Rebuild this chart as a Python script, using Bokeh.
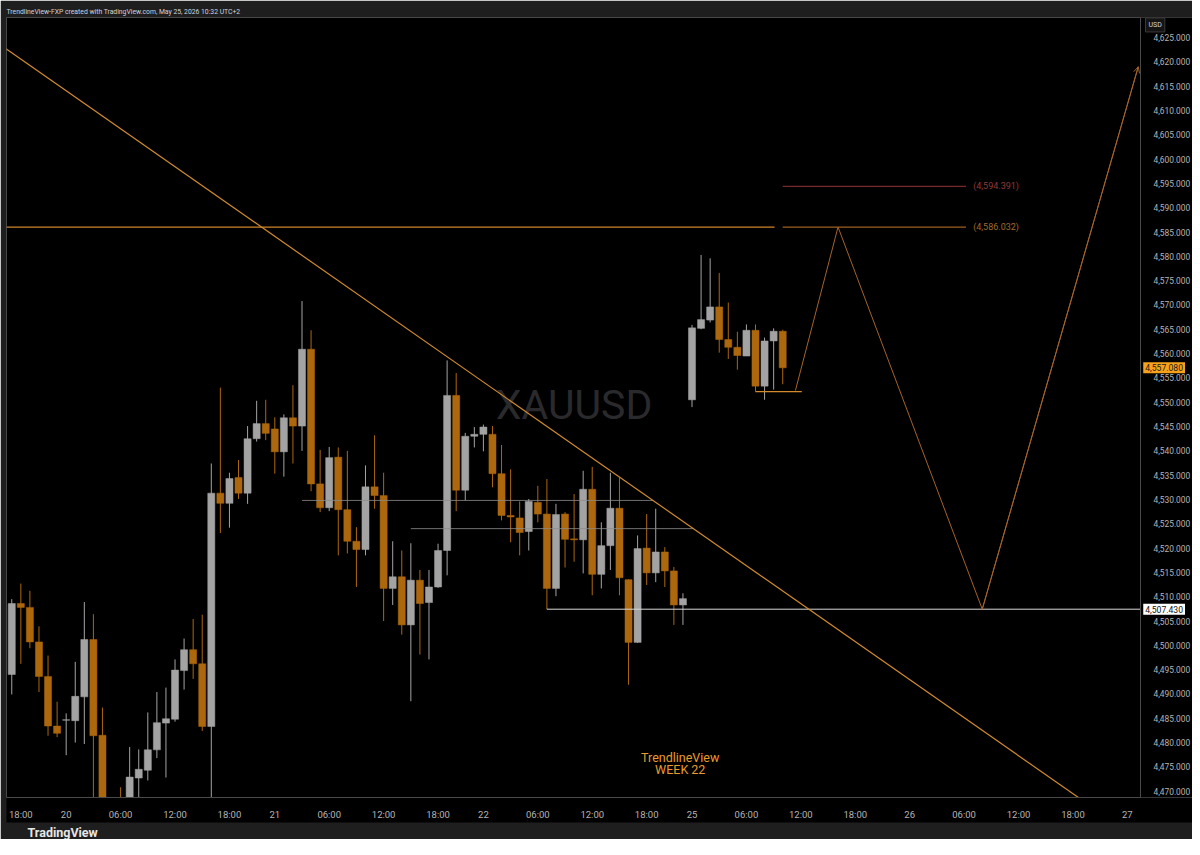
from bokeh.plotting import figure
from bokeh.models import (Range1d, FixedTicker, NumeralTickFormatter, ColumnDataSource,
                          Label, Title, Arrow, OpenHead)
from bokeh.core.properties import value
from bokeh.embed import file_html
from bokeh.resources import INLINE

# ---------------- data (hourly XAUUSD bars) ----------------
opens = [4494.0, 4508.6, 4507.8, 4500.7, 4493.6, 4483.4, 4484.6, 4484.5, 4489.4, 4501.2,
         4481.5, 4465.0, 4464.0, 4462.0, 4472.7, 4474.3, 4478.5, 4484.0, 4484.8, 4494.8,
         4499.1, 4496.2, 4483.3, 4531.3, 4529.2, 4534.5, 4531.3, 4542.5, 4545.6, 4544.5,
         4539.8, 4546.8, 4545.1, 4560.9, 4533.2, 4528.3, 4538.7, 4527.9, 4521.4, 4519.7,
         4532.6, 4530.8, 4511.7, 4514.1, 4504.2, 4513.4, 4508.8, 4512.0, 4519.5, 4551.4,
         4531.9, 4543.0, 4543.4, 4543.4, 4535.3, 4526.7, 4526.2, 4523.4, 4529.4, 4527.0,
         4511.7, 4527.0, 4521.9, 4521.7, 4532.1, 4514.6, 4520.5, 4528.2, 4513.5, 4500.6,
         4520.0, 4514.9, 4519.2, 4515.3, 4508.3, 4550.5, 4565.2, 4566.9, 4569.6, 4562.9,
         4561.3, 4559.5, 4564.8, 4553.3, 4562.6, 4564.6]
highs = [4509.5, 4512.7, 4511.2, 4503.9, 4497.9, 4488.4, 4486.0, 4496.6, 4508.9, 4506.4,
         4487.2, 4468.0, 4470.8, 4479.1, 4478.6, 4486.2, 4490.4, 4491.3, 4497.1, 4501.4,
         4505.4, 4506.3, 4537.4, 4553.0, 4535.5, 4538.1, 4545.1, 4550.3, 4550.5, 4546.9,
         4547.5, 4553.5, 4570.8, 4564.8, 4540.2, 4540.8, 4540.7, 4540.0, 4524.3, 4537.0,
         4543.2, 4535.5, 4521.4, 4519.5, 4521.0, 4515.5, 4515.5, 4520.9, 4558.6, 4556.0,
         4543.7, 4544.9, 4545.4, 4545.1, 4541.2, 4536.2, 4529.6, 4530.1, 4532.8, 4534.2,
         4529.1, 4527.4, 4531.1, 4535.9, 4536.7, 4525.3, 4535.5, 4534.5, 4513.6, 4522.6,
         4527.0, 4528.1, 4520.2, 4516.1, 4510.7, 4565.9, 4580.3, 4579.6, 4576.6, 4570.5,
         4564.5, 4566.0, 4566.0, 4563.3, 4565.2, 4564.9]
lows = [4489.9, 4496.2, 4499.4, 4490.4, 4481.4, 4481.1, 4477.4, 4480.0, 4479.7, 4466.0,
        4460.0, 4455.0, 4456.0, 4458.0, 4467.0, 4472.2, 4476.8, 4472.8, 4484.3, 4490.9,
        4493.1, 4482.4, 4466.0, 4523.1, 4524.2, 4530.1, 4529.1, 4541.9, 4542.2, 4535.3,
        4534.7, 4537.4, 4540.0, 4531.7, 4527.4, 4527.6, 4518.5, 4518.9, 4512.0, 4518.5,
        4528.1, 4505.0, 4508.3, 4502.2, 4488.5, 4498.1, 4497.1, 4511.8, 4514.4, 4527.6,
        4529.8, 4540.7, 4539.9, 4532.5, 4525.7, 4521.2, 4518.5, 4519.5, 4525.3, 4507.4,
        4510.1, 4516.0, 4517.2, 4514.8, 4510.3, 4511.7, 4515.5, 4510.3, 4491.9, 4500.5,
        4512.4, 4513.0, 4512.0, 4504.2, 4504.2, 4549.0, 4565.0, 4566.4, 4560.2, 4558.9,
        4556.7, 4559.5, 4552.2, 4550.5, 4552.6, 4553.7]
closes = [4508.6, 4507.8, 4500.7, 4493.6, 4483.4, 4481.9, 4484.7, 4489.5, 4501.2, 4481.4,
          4465.0, 4461.0, 4462.0, 4472.9, 4474.5, 4478.5, 4484.1, 4484.9, 4494.9, 4499.1,
          4496.2, 4483.3, 4531.3, 4529.2, 4534.3, 4531.3, 4542.5, 4545.6, 4543.6, 4539.8,
          4546.8, 4545.1, 4560.9, 4533.2, 4528.3, 4538.6, 4527.9, 4521.4, 4519.7, 4532.6,
          4530.8, 4511.7, 4514.1, 4504.2, 4513.4, 4508.6, 4512.0, 4519.5, 4551.4, 4531.9,
          4543.0, 4543.4, 4544.9, 4535.3, 4526.7, 4526.4, 4523.2, 4529.6, 4527.0, 4511.7,
          4526.9, 4521.8, 4521.7, 4532.1, 4514.6, 4520.5, 4528.2, 4513.9, 4500.6, 4519.9,
          4514.9, 4519.2, 4515.3, 4508.3, 4509.6, 4565.3, 4567.0, 4569.6, 4562.9, 4561.3,
          4559.6, 4564.8, 4553.3, 4562.6, 4564.6, 4557.08]

# time axis (bar index -> label)
time_tick_pos = [1, 6, 12, 18, 24, 29, 35, 41, 47, 52, 58, 64, 70, 75, 81, 87, 93, 99, 105, 111, 117, 123]
time_tick_labels = ["18:00", "20", "06:00", "12:00", "18:00", "21", "06:00", "12:00", "18:00", "22",
                    "06:00", "12:00", "18:00", "25", "06:00", "12:00", "18:00", "26", "06:00", "12:00",
                    "18:00", "27"]
price_ticks = list(range(4470, 4630, 5))

# drawings
trend_x = [-0.7, 117.6]
trend_y = [4622.8, 4468.7]
level_hi = 4594.391
level_mid = 4586.032
level_low = 4507.43
last_price = 4557.08
box_top_price = 4529.8
box_bot_price = 4524.0
base_price = 4552.2
zig_x = [86.4, 91.1, 107.0, 124.2]
zig_y = [4552.4, 4586.032, 4507.43, 4619.0]

SCALE_X = 124.44          # bar position of the price-scale border
UP = "#a3a3a3"
DOWN = "#ad670c"
FONT = value("Roboto")

p = figure(width=1192, height=839, x_range=Range1d(-0.58, 130.18), y_range=Range1d(4468.7, 4629.13),
           y_axis_location="right", output_backend="svg", toolbar_location=None,
           background_fill_color="black", border_fill_color="#1e1e1e",
           min_border_left=6, min_border_right=0, min_border_top=17, min_border_bottom=37,
           outline_line_color=None)
p.grid.visible = False

# header / footer
p.title.text = "TrendlineView-FXP created with TradingView.com, May 25, 2026 10:32 UTC+2"
p.title.text_font = "Roboto"
p.title.text_font_size = "6.8px"
p.title.text_font_style = "normal"
p.title.text_color = "#d1d4dc"
p.title.align = "left"
p.title.standoff = 3
p.add_layout(Title(text="TradingView", text_font="Roboto", text_font_size="12.5px",
                   text_font_style="bold", text_color="#e6e6e6", align="left", offset=21,
                   standoff=0), "below")

# watermark
p.text(x=[62], y=[4549.5], text=["XAUUSD"], text_font=FONT, text_font_size="41px",
       text_color="#2a2a2d", text_align="center", text_baseline="middle")

# candles
idx = list(range(len(opens)))
colors = [UP if c >= o else DOWN for o, c in zip(opens, closes)]
src = ColumnDataSource(dict(x=idx, o=opens, h=highs, l=lows, c=closes,
                            top=[max(o, c) for o, c in zip(opens, closes)],
                            bot=[min(o, c) for o, c in zip(opens, closes)], col=colors))
p.segment(x0="x", y0="l", x1="x", y1="h", color="col", line_width=1, source=src)
p.vbar(x="x", top="top", bottom="bot", width=0.78, fill_color="col", line_color="col",
       line_width=0.5, source=src)

# horizontal helper lines
p.segment(x0=[32.0, 44.0], y0=[box_top_price, box_bot_price], x1=[70.7, 75.2],
          y1=[box_top_price, box_bot_price], line_color="#8c8c8c", line_width=1, line_alpha=0.8)
p.segment(x0=[59.0], y0=[level_low], x1=[SCALE_X], y1=[level_low], line_color="#d8d8d8", line_width=1)
p.segment(x0=[82.0], y0=[base_price], x1=[87.1], y1=[base_price], line_color="#d48a2c", line_width=1.2)

# resistance levels
p.segment(x0=[-0.58], y0=[level_mid], x1=[84.1], y1=[level_mid], line_color="#d08428", line_width=1.2)
p.segment(x0=[85.0], y0=[level_mid], x1=[105.2], y1=[level_mid], line_color="#9c5f20", line_width=1.2)
p.segment(x0=[85.0], y0=[level_hi], x1=[105.2], y1=[level_hi], line_color="#7a2a2a", line_width=1.2)
p.text(x=[106.0, 106.0], y=[level_hi, level_mid], text=["(4,594.391)", "(4,586.032)"],
       text_color=["#8e3a3a", "#9e6a2c"], text_font=FONT, text_font_size="9px",
       text_align="left", text_baseline="middle")

# trendline
p.line(trend_x, trend_y, line_color="#d08a2e", line_width=1.2)

# projected path
p.line(zig_x, zig_y, line_color="#a4632a", line_width=1)
p.add_layout(Arrow(end=OpenHead(size=6, line_color="#a4632a", line_width=1),
                   x_start=zig_x[-2], y_start=zig_y[-2], x_end=zig_x[-1], y_end=zig_y[-1],
                   line_color="#a4632a", line_width=1))

# signature
p.text(x=[73.7, 73.7], y=[4477.0, 4474.4], text=["TrendlineView", "WEEK 22"],
       text_color="#e99c2a", text_font=FONT, text_font_size="12.5px",
       text_align="center", text_baseline="middle")

# axes: price scale pinned at the scale border inside the plot area
p.yaxis.fixed_location = SCALE_X
p.yaxis.ticker = FixedTicker(ticks=price_ticks)
p.yaxis.formatter = NumeralTickFormatter(format="0,0.000")
p.xaxis.ticker = FixedTicker(ticks=time_tick_pos)
p.xaxis.major_label_overrides = {pos: lab for pos, lab in zip(time_tick_pos, time_tick_labels)}
for ax in (p.xaxis, p.yaxis):
    ax.major_label_text_font = "Roboto"
    ax.major_tick_line_color = None
    ax.minor_tick_line_color = None
    ax.axis_line_color = "#4a4a4a"
    ax.background_fill_color = "black"
    ax.major_label_text_color = "#b4b4b4"
p.xaxis.major_label_text_font_size = "9.5px"
p.yaxis.major_label_text_font_size = "8.4px"
p.yaxis.major_label_standoff = 7
p.xaxis.major_label_standoff = 5

# price-scale labels
p.add_layout(Label(x=124.75, y=last_price, text="4,557.080",
                   text_font="Roboto", text_font_size="8.6px", text_color="#1a1a1a",
                   background_fill_color="#f7a21b", text_baseline="middle", text_align="left",
                   padding=2))
p.add_layout(Label(x=124.75, y=level_low, text="4,507.430",
                   text_font="Roboto", text_font_size="8.6px", text_color="#111111",
                   background_fill_color="#ffffff", text_baseline="middle", text_align="left",
                   padding=2))
p.add_layout(Label(x=125.0, y=4627.6, text="USD",
                   text_font="Roboto", text_font_size="7px", text_color="#d1d4dc",
                   background_fill_color="#141414", border_line_color="#3a3a3a",
                   text_baseline="middle", text_align="left", padding=3))

open("out.html", "w").write(file_html(p, INLINE))
